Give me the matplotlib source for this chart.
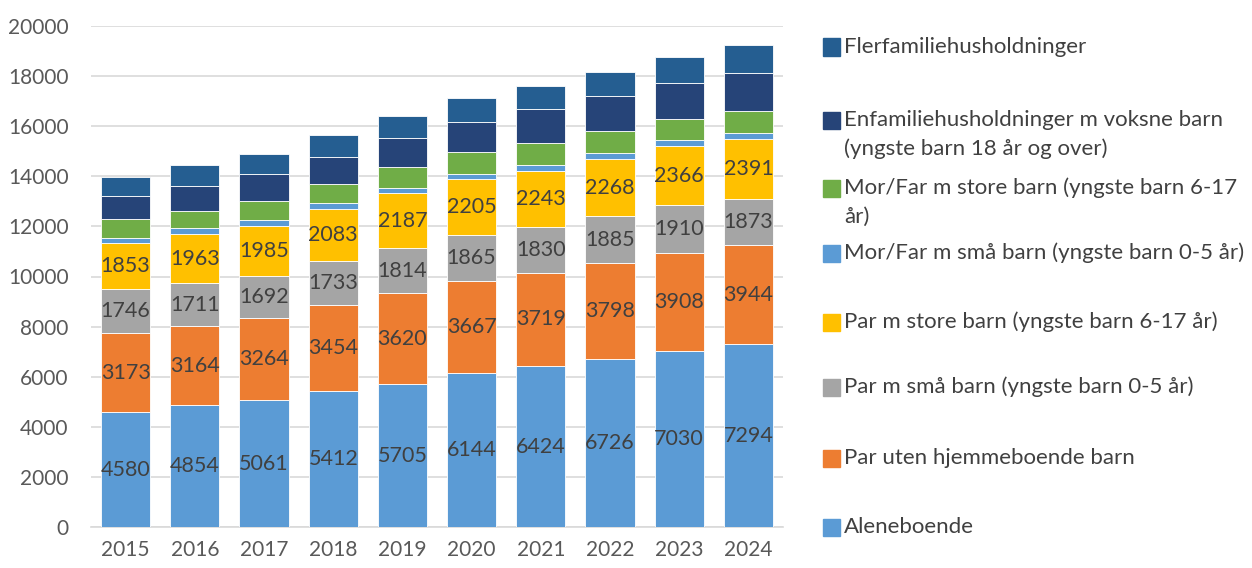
import matplotlib
matplotlib.use("Agg")
import matplotlib.pyplot as plt
import numpy as np

years = ["2015", "2016", "2017", "2018", "2019", "2020", "2021", "2022", "2023", "2024"]

aleneboende = [4580, 4854, 5061, 5412, 5705, 6144, 6424, 6726, 7030, 7294]
par_uten = [3173, 3164, 3264, 3454, 3620, 3667, 3719, 3798, 3908, 3944]
par_sma = [1746, 1711, 1692, 1733, 1814, 1865, 1830, 1885, 1910, 1873]
par_store = [1853, 1963, 1985, 2083, 2187, 2205, 2243, 2268, 2366, 2391]
morfar_sma = [200, 240, 260, 250, 210, 230, 250, 260, 240, 240]
morfar_store = [730, 700, 760, 760, 840, 840, 870, 870, 840, 880]
enfamilie_voksne = [930, 1000, 1060, 1070, 1150, 1220, 1340, 1380, 1440, 1490]
flerfamilie = [760, 800, 790, 880, 880, 970, 930, 960, 1010, 1140]

series_names = [
    "Aleneboende",
    "Par uten hjemmeboende barn",
    "Par m små barn (yngste barn 0-5 år)",
    "Par m store barn (yngste barn 6-17 år)",
    "Mor/Far m små barn (yngste barn 0-5 år)",
    "Mor/Far m store barn (yngste barn 6-17\når)",
    "Enfamiliehusholdninger m voksne barn\n(yngste barn 18 år og over)",
    "Flerfamiliehusholdninger",
]
series_values = [aleneboende, par_uten, par_sma, par_store,
                 morfar_sma, morfar_store, enfamilie_voksne, flerfamilie]
labeled = [True, True, True, True, False, False, False, False]
colors = ["#5B9BD5", "#ED7D31", "#A5A5A5", "#FFC000",
          "#5B9BD5", "#70AD47", "#264478", "#255E91"]

plt.rcParams['font.family'] = ['Lato', 'DejaVu Sans']

W, H = 1252, 568
fig = plt.figure(figsize=(W / 100, H / 100), dpi=100)
ax = fig.add_axes([91 / W, 1 - 527 / H, (783 - 91) / W, (527 - 26) / H])

x = np.arange(len(years))
bottom = np.zeros(len(years))
for name, vals, col, lab in zip(series_names, series_values, colors, labeled):
    vals = np.array(vals, dtype=float)
    ax.bar(x, vals, width=0.71, bottom=bottom, color=col,
           edgecolor="white", linewidth=0.6, zorder=3)
    if lab:
        for xi, b, v in zip(x, bottom, vals):
            ax.text(xi, b + v / 2, f"{int(v)}", ha="center", va="center",
                    fontsize=15.5, color="#404040", zorder=4)
    bottom += vals

ax.set_xlim(-0.5, len(years) - 0.5)
ax.set_ylim(0, 20000)
ax.set_yticks(np.arange(0, 20001, 2000))
ax.set_xticks(x)
ax.set_xticklabels(years)
ax.tick_params(axis="both", length=0, labelsize=15, colors="#595959")
ax.tick_params(axis="y", pad=16)
ax.tick_params(axis="x", pad=9)
ax.grid(axis="y", color="#D9D9D9", linewidth=1.2, zorder=0)
for s in ["top", "right", "left"]:
    ax.spines[s].set_visible(False)
ax.spines["bottom"].set_color("#D9D9D9")
ax.spines["bottom"].set_linewidth(1.2)

# legend (reverse order), manual placement
legend_y = [47, 120, 188, 253, 322, 387, 458, 527]
line_gap = 29
for yy, name, col in zip(legend_y, series_names[::-1], colors[::-1]):
    fig.patches.append(plt.Rectangle((823 / W, 1 - (yy + 8.5) / H), 17 / W, 17 / H,
                                     transform=fig.transFigure, color=col))
    for i, line in enumerate(name.split("\n")):
        fig.text(844 / W, 1 - (yy + i * line_gap) / H, line, ha="left", va="center",
                 fontsize=16, color="#404040")

fig.savefig("out.png", dpi=100)
